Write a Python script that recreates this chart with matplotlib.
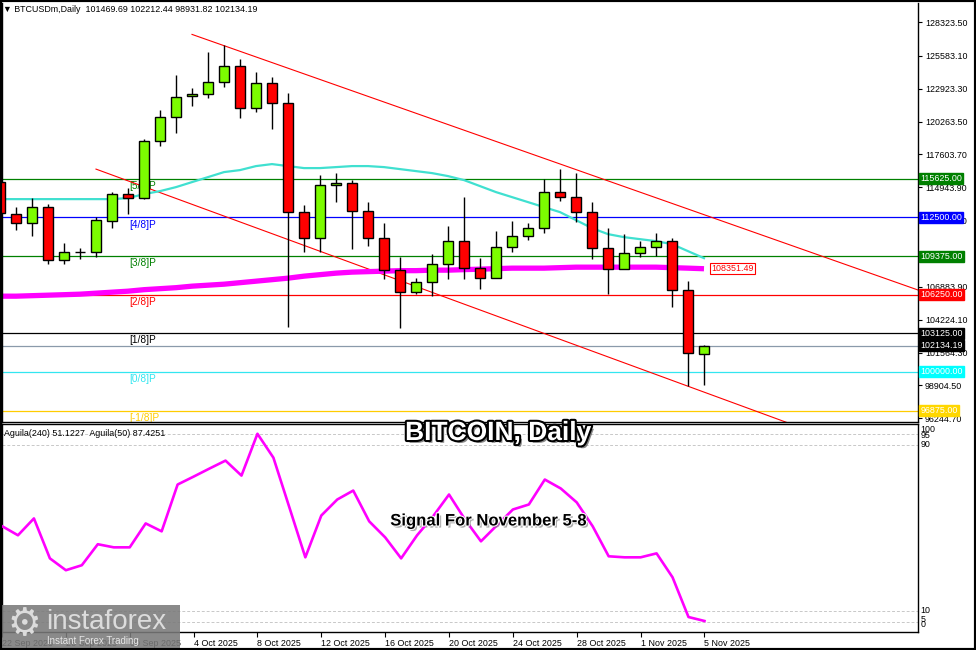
import datetime as dt
import matplotlib
matplotlib.use("Agg")
import matplotlib.pyplot as plt
import matplotlib.patheffects as pe
from matplotlib.patches import Rectangle

plt.rcParams['font.family'] = ['Liberation Sans', 'DejaVu Sans']

# ---- data (daily BTCUSDm, 22 Sep 2025 .. 5 Nov 2025) ----
start_date = dt.date(2025, 9, 22)
opens = [115364, 112772, 112042, 113338, 109046, 109694, 109694, 112205, 114392, 114068,
         118684, 120628, 122330, 122491, 123463, 124760, 121357, 123382, 121763, 112934,
         110828, 115120, 115283, 113014, 110828, 108236, 106454, 107264, 108722, 110585,
         108398, 107588, 110098, 110990, 111637, 114554, 114149, 112934, 110018, 108316,
         109612, 110098, 110585, 106616, 101469.69]
highs = [115688, 113338, 114068, 113582, 110422, 110018, 112530, 114554, 114878, 118846,
         121195, 124030, 122977, 125894, 126461, 125326, 124274, 123868, 122572, 113500,
         115930, 116092, 115526, 113744, 112042, 109288, 107588, 109532, 111800, 114149,
         109208, 111394, 112205, 112042, 115606, 116416, 116092, 113744, 111637, 111152,
         110585, 111232, 110828, 107344, 102212.44]
lows = [112610, 111476, 110990, 108722, 108722, 109126, 109288, 111637, 112772, 113990,
        118280, 119332, 121520, 122168, 123058, 120547, 121034, 119656, 103620, 109694,
        109694, 113744, 109936, 110180, 107506, 103538, 106292, 106130, 107506, 107506,
        106696, 107588, 109694, 110666, 111232, 113824, 112124, 109126, 106292, 108316,
        109288, 109370, 105240, 98840, 98931.82]
closes = [112852, 112042, 113338, 109046, 109694, 109694, 112286, 114392, 114068, 118684,
          120628, 122249, 122491, 123463, 124760, 121357, 123382, 121763, 112934, 110828,
          115120, 115283, 113014, 110828, 108236, 106454, 107264, 108722, 110585, 108398,
          107588, 110098, 110990, 111637, 114554, 114149, 112934, 110018, 108316, 109612,
          110098, 110585, 106616, 101512, 102134.19]

ma_fast = [113986, 113986, 113986, 113986, 113986, 113986, 113986, 113986, 114068, 114392,
           114634, 114958, 115364, 115768, 116174, 116336, 116660, 116822, 116660, 116498,
           116498, 116578, 116660, 116660, 116578, 116416, 116254, 116092, 115850, 115526,
           115040, 114554, 114149, 113744, 113338, 112934, 112286, 111637, 111152, 110908,
           110746, 110585, 110342, 109774, 109208]
ma_slow = [106130, 106130, 106170, 106210, 106250, 106292, 106372, 106454, 106534, 106656,
           106737, 106818, 106940, 107020, 107100, 107222, 107344, 107466, 107588, 107750,
           107872, 107994, 108076, 108116, 108156, 108196, 108196, 108236, 108236, 108278,
           108316, 108358, 108398, 108398, 108398, 108438, 108478, 108478, 108478, 108478,
           108478, 108478, 108438, 108398, 108351.49]

aguila = [50.9, 46.5, 54.6, 35.4, 29.7, 32.1, 42.2, 40.7, 40.7, 52.2,
          48.4, 70.9, 74.7, 78.6, 82.4, 75.2, 95.3, 83.8, 59.9, 35.9,
          56.0, 63.7, 68.0, 53.2, 45.5, 35.4, 46.5, 55.6, 66.1, 54.1,
          43.6, 51.3, 58.9, 61.3, 73.3, 69.0, 62.3, 50.8, 36.4, 35.9,
          35.9, 37.8, 26.3, 7.2, 5.3]

# Murrey math levels
mm_levels = [115625, 112500, 109375, 106250, 103125, 100000, 96875]
mm_names = ['[5/8]P', '[4/8]P', '[3/8]P', '[2/8]P', '[1/8]P', '[0/8]P', '[-1/8]P']
mm_colors = ['#008000', '#0000ff', '#008000', '#ff0000', '#000000', '#33e6f0', '#ffcc00']
mm_box = ['#008000', '#0000ff', '#008000', '#ff0000', '#000000', '#00ffff', '#ffd700']

bid = 102134.19
price_ticks = [128323.50, 125583.10, 122923.30, 120263.50, 117603.70, 114943.90, 112284.10,
               106883.90, 104224.10, 101564.30, 98904.50, 96244.70]

# channel anchors (day index, price)
upper_chan = [(12, 127320), (36, 116376)]
lower_chan = [(6, 116416), (43, 98840)]

n = len(closes)
days = list(range(n))
dates = [start_date + dt.timedelta(days=i) for i in days]

# ---- figure ----
W, H = 976, 650
fig = plt.figure(figsize=(W / 100, H / 100), dpi=100)
fig.patch.set_facecolor('white')

def px(l, t, r, b):
    return [l / W, 1 - b / H, (r - l) / W, (b - t) / H]

ax = fig.add_axes(px(2, 3, 918, 421.5))
ax2 = fig.add_axes(px(2, 424, 918, 632))

xmin, xmax = 2 / 16, 918 / 16
ax.set_xlim(xmin, xmax)
ax2.set_xlim(xmin, xmax)
ax.set_ylim(95985, 129862)
ax2.set_ylim(0, 100)

# murrey lines + labels
for lvl, name, col in zip(mm_levels, mm_names, mm_colors):
    ax.axhline(lvl, color=col, lw=0.9, zorder=1)
    ax.annotate(name, (8.06, lvl), xytext=(0, -1.5), textcoords='offset points',
                color=col, fontsize=7.3, ha='left', va='top', zorder=1.5,
                annotation_clip=False, clip_on=True)
ax.axhline(bid, color='#8a9aaa', lw=0.9, zorder=1)

# channel lines
for (x0, y0), (x1, y1) in [upper_chan, lower_chan]:
    slope = (y1 - y0) / (x1 - x0)
    ax.plot([x0, xmax + 1], [y0, y0 + slope * (xmax + 1 - x0)], color='#ff0000', lw=0.8, zorder=2)

# moving averages
ax.plot(days, ma_fast, color='#40e0d0', lw=1.6, zorder=2)
ax.plot(days, ma_slow, color='#ff00ff', lw=3.8, zorder=2, solid_capstyle='butt')

# candles
for i in days:
    o, h, l, c = opens[i], highs[i], lows[i], closes[i]
    col = '#7cfc00' if c >= o else '#ff0000'
    ax.vlines(i, l, h, color='black', lw=1.0, zorder=3)
    ax.bar(i, max(abs(c - o), 1), bottom=min(o, c), width=0.66, color=col,
           edgecolor='black', linewidth=1.0, zorder=4)

# y axis on right
ax.yaxis.tick_right()
ax.set_yticks(price_ticks)
ax.set_yticklabels([f"{v:.2f}" for v in price_ticks])
ax.tick_params(axis='y', length=3, pad=2, labelsize=6.4, direction='out', width=0.8)
ax.set_xticks([])
ax.spines['top'].set_visible(False)
for s in ['left', 'right', 'bottom']:
    ax.spines[s].set_linewidth(1.0)

trans = ax.get_yaxis_transform()
for lvl, bc in zip(mm_levels, mm_box):
    ax.text(1.0025, lvl, f"{lvl:.2f}", transform=trans, color='white', fontsize=6.4,
            ha='left', va='center', zorder=6, clip_on=False,
            bbox=dict(boxstyle='square,pad=0.12', fc=bc, ec=bc))
ax.text(1.0025, bid, f"{bid:.2f}", transform=trans, color='white', fontsize=6.4,
        ha='left', va='center', zorder=6, clip_on=False,
        bbox=dict(boxstyle='square,pad=0.12', fc='black', ec='black'))
ax.text(n - 0.55, ma_slow[-1], f"{ma_slow[-1]:.2f}", color='#ff0000', fontsize=6.4,
        ha='left', va='center', zorder=6,
        bbox=dict(boxstyle='square,pad=0.12', fc='white', ec='#ff0000', lw=0.8))

# ---- indicator panel ----
for lv in [95, 90, 10, 5]:
    ax2.axhline(lv, color='#c8c8c8', lw=0.7, ls=(0, (3, 2)), zorder=1)
ax2.plot(days, aguila, color='#ff00ff', lw=1.9, zorder=3)
ax2.set_yticks([])
tr2 = ax2.get_yaxis_transform()
for lab, yv in [('100', 97.2), ('95', 94.6), ('90', 90), ('10', 10.1), ('5', 6.2), ('0', 3.4)]:
    ax2.text(1.003, yv, lab, transform=tr2, fontsize=6.4, ha='left', va='center', clip_on=False)

tick_days = days[::4]
ax2.set_xticks(tick_days)
ax2.set_xticklabels([f"{dates[i].day} {dates[i]:%b %Y}" for i in tick_days])
ax2.tick_params(axis='x', length=3.5, pad=1.5, labelsize=6.4, direction='out', width=0.8)
for lbl in ax2.get_xticklabels():
    lbl.set_ha('left')
for s in ax2.spines.values():
    s.set_linewidth(1.0)

ax2.text(0.002, 0.955, "Aguila(240) 51.1227  Aguila(50) 87.4251", transform=ax2.transAxes,
         fontsize=6.4, ha='left', va='center')

# header
fig.text(3 / W, 1 - 10 / H, "\u25bc BTCUSDm,Daily  101469.69 102212.44 98931.82 102134.19",
         fontsize=6.4, ha='left', va='center')

# titles
fig.text(498 / W, 1 - 433 / H, "BITCOIN, Daily", fontsize=19, fontweight='bold', color='white',
         ha='center', va='center', zorder=10,
         path_effects=[pe.SimplePatchShadow(offset=(2, -2), shadow_rgbFace='#555555', alpha=0.7),
                       pe.Stroke(linewidth=3, foreground='black'), pe.Normal()])
fig.text(488 / W, 1 - 521 / H, "Signal For November 5-8", fontsize=12, fontweight='bold',
         color='black', ha='center', va='center', zorder=10,
         path_effects=[pe.SimplePatchShadow(offset=(1.5, -1.5), shadow_rgbFace='#777777', alpha=0.6),
                       pe.Stroke(linewidth=1.5, foreground='white'), pe.Normal()])

# watermark logo
fig.patches.append(Rectangle((0, 0), 180 / W, 45 / H, transform=fig.transFigure,
                             fc='#7a7a7a', ec='none', alpha=0.88, zorder=8))
fig.text(24 / W, 1 - 625 / H, "\u2699", fontsize=27, color='#dcdcdc', ha='center', va='center',
         family=['DejaVu Sans'], zorder=9)
fig.text(46 / W, 1 - 622 / H, "instaforex", fontsize=20, color='#dcdcdc', ha='left', va='center',
         zorder=9)
fig.text(47 / W, 1 - 641 / H, "Instant Forex Trading", fontsize=7, color='#e6e6e6', ha='left',
         va='center', zorder=9)

# outer frame
fig.patches.append(Rectangle((0, 0), 1, 1, transform=fig.transFigure, fill=False,
                             ec='black', lw=3, zorder=20))

fig.savefig("out.png", dpi=100)
